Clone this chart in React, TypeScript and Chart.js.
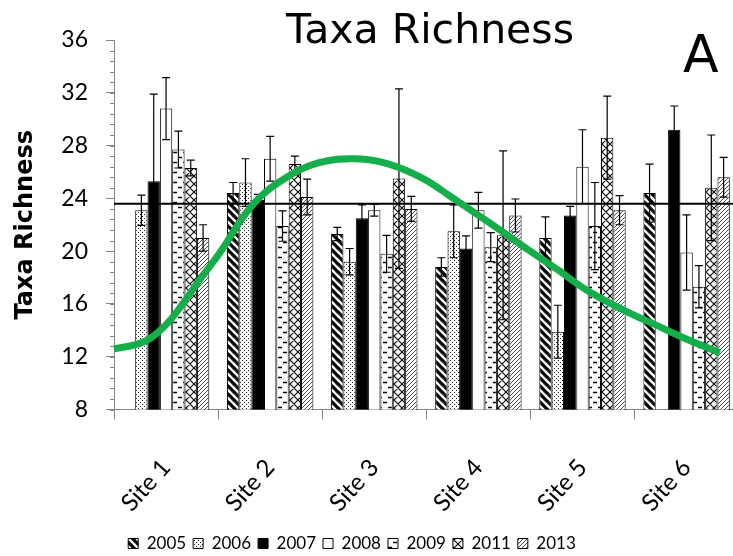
import React, { useEffect, useRef } from 'react';
import { Chart, registerables } from 'chart.js';

Chart.register(...registerables);

// ---------------- data ----------------
const sites = ['Site 1', 'Site 2', 'Site 3', 'Site 4', 'Site 5', 'Site 6'];
const years = ['2005', '2006', '2007', '2008', '2009', '2011', '2013'];

const v2005 = [null, 24.4, 21.3, 18.8, 21.0, 24.4];
const e2005 = [null, 0.8, 0.5, 0.7, 1.6, 2.2];
const v2006 = [23.1, 25.2, 19.2, 21.5, 13.9, null];
const e2006 = [1.15, 1.8, 1.0, 2.0, 2.0, null];
const v2007 = [25.3, 23.9, 22.5, 20.2, 22.7, 29.2];
const e2007 = [6.6, 0.4, 1.0, 0.95, 0.7, 1.8];
const v2008 = [30.8, 27.0, 23.1, 23.1, 26.4, 19.9];
const e2008 = [2.35, 1.7, 0.45, 1.35, 2.8, 2.85];
const v2009 = [27.7, 21.9, 19.8, 20.3, 21.9, 17.3];
const e2009 = [1.4, 1.15, 1.4, 1.1, 3.3, 1.6];
const v2011 = [26.3, 26.6, 25.5, 21.2, 28.6, 24.8];
const e2011 = [0.6, 0.6, 6.8, 6.4, 3.15, 4.0];
const v2013 = [21.0, 24.1, 23.2, 22.7, 23.1, 25.6];
const e2013 = [1.0, 1.35, 0.95, 1.25, 1.1, 1.5];

const seriesValues = [v2005, v2006, v2007, v2008, v2009, v2011, v2013];
const seriesErrors = [e2005, e2006, e2007, e2008, e2009, e2011, e2013];
const patternKinds = ['wideDown', 'dots', 'solid', 'white', 'dashes', 'cross', 'fineUp'];

const meanValue = 23.6;

// trend curve, x in site units (Site 1 = 1 ... Site 6 = 6)
const curveX = [0.5, 0.7, 0.85, 1.01, 1.16, 1.32, 1.51, 1.83, 2.14, 2.47, 2.83, 3.14, 3.47, 3.74, 4.07, 4.48, 4.75, 5.07, 5.48, 5.65, 5.98, 6.32];
const curveY = [12.6, 12.9, 13.4, 14.5, 16.0, 17.8, 19.8, 23.5, 25.5, 26.7, 27.0, 26.6, 25.5, 24.1, 22.35, 20.1, 18.65, 16.9, 15.2, 14.6, 13.4, 12.3];

const yMin = 8;
const yMax = 36;
const yStep = 4;
const yMinorStep = 0.8;

const chartTitle = 'Taxa Richness';
const panelLetter = 'A';
const yTitle = 'Taxa Richness';

// ---------------- layout ----------------
const CANVAS_W = 780;
const CANVAS_H = 562;
const CANVAS_OFFSET_X = -38;
const AXIS_GRAY = '#868686';

function makePattern(kind: string): CanvasPattern | string {
  if (kind === 'solid') return '#000000';
  if (kind === 'white') return '#ffffff';
  const c = document.createElement('canvas');
  let s = 8;
  if (kind === 'dots') s = 4;
  if (kind === 'dashes') s = 10;
  if (kind === 'fineUp') s = 4;
  c.width = s;
  c.height = s;
  const g = c.getContext('2d')!;
  g.fillStyle = '#ffffff';
  g.fillRect(0, 0, s, s);
  g.strokeStyle = '#000000';
  g.fillStyle = '#000000';
  if (kind === 'wideDown') {
    g.lineWidth = 3.2;
    g.beginPath();
    for (const k of [-s, 0, s]) {
      g.moveTo(k - 1, -1);
      g.lineTo(k + s + 1, s + 1);
    }
    g.stroke();
  } else if (kind === 'dots') {
    g.fillStyle = '#222';
    g.fillRect(0, 0, 1, 1);
    g.fillRect(2, 2, 1, 1);
  } else if (kind === 'dashes') {
    g.lineWidth = 1.4;
    g.beginPath();
    g.moveTo(1, 2.5);
    g.lineTo(5, 2.5);
    g.moveTo(6, 7.5);
    g.lineTo(10, 7.5);
    g.stroke();
  } else if (kind === 'cross') {
    g.lineWidth = 1.1;
    g.beginPath();
    for (const k of [-s, 0, s]) {
      g.moveTo(k, 0);
      g.lineTo(k + s, s);
      g.moveTo(k, s);
      g.lineTo(k + s, 0);
    }
    g.stroke();
  } else if (kind === 'fineUp') {
    g.strokeStyle = '#333';
    g.lineWidth = 0.9;
    g.beginPath();
    for (const k of [-s, 0, s]) {
      g.moveTo(k, s);
      g.lineTo(k + s, 0);
    }
    g.stroke();
  }
  return g.createPattern(c, 'repeat') as CanvasPattern;
}

const errorBarPlugin = {
  id: 'errorBars',
  afterDatasetDraw(chart: any, args: any) {
    const ds = chart.data.datasets[args.index];
    if (!ds.errors) return;
    const yScale = chart.scales.y;
    const ctx = chart.ctx;
    ctx.save();
    ctx.strokeStyle = '#000';
    ctx.lineWidth = 1.2;
    args.meta.data.forEach((el: any, j: number) => {
      const v = ds.data[j];
      const e = ds.errors[j];
      if (v == null || e == null) return;
      const x = el.x;
      const yt = yScale.getPixelForValue(v + e);
      const yb = yScale.getPixelForValue(v - e);
      ctx.beginPath();
      ctx.moveTo(x, yt);
      ctx.lineTo(x, yb);
      ctx.moveTo(x - 4, yt);
      ctx.lineTo(x + 4, yt);
      ctx.moveTo(x - 4, yb);
      ctx.lineTo(x + 4, yb);
      ctx.stroke();
    });
    ctx.restore();
  },
};

const minorTickPlugin = {
  id: 'minorTicks',
  afterDraw(chart: any) {
    const yScale = chart.scales.y;
    const ctx = chart.ctx;
    const left = chart.chartArea.left;
    ctx.save();
    ctx.strokeStyle = AXIS_GRAY;
    ctx.lineWidth = 1;
    ctx.beginPath();
    const n = Math.round((yMax - yMin) / yMinorStep);
    for (let i = 0; i <= n; i++) {
      const v = yMin + i * yMinorStep;
      const py = Math.round(yScale.getPixelForValue(v)) + 0.5;
      ctx.moveTo(left - 4, py);
      ctx.lineTo(left, py);
    }
    ctx.stroke();
    ctx.restore();
  },
};

const titlePlugin = {
  id: 'titleText',
  afterDraw(chart: any) {
    const ctx = chart.ctx;
    ctx.save();
    ctx.fillStyle = '#000';
    ctx.textBaseline = 'alphabetic';
    ctx.textAlign = 'center';
    ctx.font = '41px "DejaVu Sans"';
    ctx.fillText(chartTitle, 430 - CANVAS_OFFSET_X, 43);
    ctx.textAlign = 'left';
    ctx.font = '52px "DejaVu Sans"';
    ctx.fillText(panelLetter, 683 - CANVAS_OFFSET_X, 72);
    ctx.restore();
  },
};

export default function App() {
  const ref = useRef<HTMLCanvasElement | null>(null);

  useEffect(() => {
    if (!ref.current) return;
    const barSets = years.map((yr, i) => ({
      type: 'bar' as const,
      label: yr,
      data: seriesValues[i],
      errors: seriesErrors[i],
      backgroundColor: makePattern(patternKinds[i]),
      borderColor: '#000',
      borderWidth: 1,
      categoryPercentage: 0.83,
      barPercentage: 1,
      order: 2,
    }));
    // line datasets share the category axis; fractional x = position between site centres
    const curveSet = {
      type: 'line' as const,
      label: 'trend',
      parsing: false,
      data: curveX.map((x, i) => ({ x: x - 1, y: curveY[i] })),
      borderColor: '#14af4b',
      borderWidth: 7,
      pointRadius: 0,
      tension: 0.4,
      fill: false,
      order: 0,
    };
    const meanSet = {
      type: 'line' as const,
      label: 'mean',
      parsing: false,
      data: [
        { x: -0.5, y: meanValue },
        { x: 5.5, y: meanValue },
      ],
      borderColor: '#000',
      borderWidth: 2,
      pointRadius: 0,
      fill: false,
      order: 1,
    };

    const chart = new Chart(ref.current, {
      type: 'bar',
      data: {
        labels: sites,
        datasets: [...barSets, curveSet, meanSet] as any,
      },
      options: {
        responsive: false,
        animation: false,
        events: [],
        layout: { padding: { top: 40, left: 0, right: 0, bottom: 0 } },
        scales: {
          x: {
            type: 'category',
            offset: true,
            afterFit: (scale: any) => {
              scale.height = 118.5;
            },
            grid: {
              display: true,
              offset: true,
              drawOnChartArea: false,
              drawTicks: true,
              tickLength: 10,
              color: AXIS_GRAY,
            },
            border: { display: true, color: AXIS_GRAY, width: 1 },
            ticks: {
              autoSkip: false,
              minRotation: 48,
              maxRotation: 48,
              padding: 34,
              color: '#000',
              font: { family: 'Lato', size: 24 },
            },
          },
          y: {
            type: 'linear',
            position: 'left',
            min: yMin,
            max: yMax,
            afterFit: (scale: any) => {
              scale.width = 152;
            },
            ticks: {
              stepSize: yStep,
              padding: 18,
              color: '#000',
              font: { family: 'Lato', size: 23 },
            },
            grid: {
              display: true,
              drawOnChartArea: false,
              drawTicks: true,
              tickLength: 8,
              color: AXIS_GRAY,
            },
            border: { display: true, color: AXIS_GRAY, width: 1 },
            title: {
              display: true,
              text: yTitle,
              color: '#000',
              font: { family: 'DejaVu Sans', size: 24, weight: 'bold' },
              padding: { top: 49.6, bottom: 0 },
            },
          },
        },
        plugins: {
          title: { display: false },
          tooltip: { enabled: false },
          legend: {
            display: true,
            position: 'bottom',
            align: 'center',
            labels: {
              boxWidth: 10,
              boxHeight: 10,
              padding: 7,
              color: '#000',
              font: { family: 'Lato', size: 17 },
              filter: (item: any) => item.datasetIndex < years.length,
            },
          },
        },
      },
      plugins: [errorBarPlugin, minorTickPlugin, titlePlugin],
    });
    return () => chart.destroy();
  }, []);

  return (
    <div
      style={{
        position: 'absolute',
        left: 0,
        top: 0,
        width: 733,
        height: 556,
        overflow: 'hidden',
        background: '#fff',
      }}
    >
      <canvas
        ref={ref}
        width={CANVAS_W}
        height={CANVAS_H}
        style={{ position: 'absolute', left: CANVAS_OFFSET_X, top: 0, width: CANVAS_W, height: CANVAS_H }}
      />
    </div>
  );
}
